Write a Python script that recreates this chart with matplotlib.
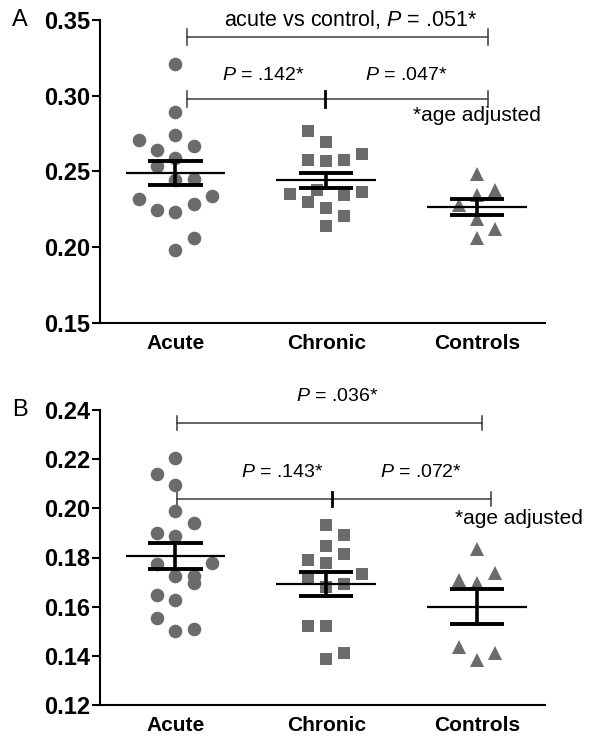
import matplotlib
matplotlib.use("Agg")
import matplotlib.pyplot as plt
import numpy as np

plt.rcParams['font.family'] = ['Liberation Sans', 'DejaVu Sans']
plt.rcParams['mathtext.fontset'] = 'custom'
plt.rcParams['mathtext.it'] = 'Liberation Sans:italic'
plt.rcParams['mathtext.rm'] = 'Liberation Sans'

categories = ["Acute", "Chronic", "Controls"]

# Panel A values
a_acute = [0.321, 0.289, 0.271, 0.274, 0.267, 0.264, 0.259, 0.2535, 0.2445, 0.245,
           0.232, 0.2337, 0.2246, 0.223, 0.2286, 0.2058, 0.198]
a_acute_dx = [0, 0, -2, 0, 1, -1, 0, -1, 0, 1, -2, 2, -1, 0, 1, 1, 0]
a_chronic = [0.2767, 0.2694, 0.2617, 0.2577, 0.2566, 0.2573, 0.2352, 0.2374, 0.2346,
             0.2363, 0.2297, 0.2260, 0.2202, 0.2136]
a_chronic_dx = [-1, 0, 2, -1, 0, 1, -2, -0.5, 1, 2, -1, 0, 1, 0]
a_controls = [0.2485, 0.2374, 0.2341, 0.2275, 0.2187, 0.2121, 0.2058]
a_controls_dx = [0, 1, 0, -1, 0, 1, 0]
a_mean = [0.249, 0.244, 0.2264]
a_sem = [0.0077, 0.0051, 0.0055]

# Panel B values
b_acute = [0.2203, 0.2138, 0.2095, 0.1989, 0.1939, 0.1898, 0.1887, 0.1773, 0.1776,
           0.1726, 0.1726, 0.1695, 0.1647, 0.1627, 0.1553, 0.1502, 0.1508]
b_acute_dx = [0, -1, 0, 0, 1, -1, 0, -1, 2, 0, 1, 1, -1, 0, -1, 0, 1]
b_chronic = [0.1932, 0.1891, 0.1847, 0.1814, 0.1790, 0.1776, 0.1733, 0.1711, 0.1692,
             0.1681, 0.1522, 0.1522, 0.1413, 0.1386]
b_chronic_dx = [0, 1, 0, 1, -1, 0, 2, -1, 1, 0, -1, 0, 1, 0]
b_controls = [0.1833, 0.1736, 0.1708, 0.1695, 0.1437, 0.1410, 0.1383]
b_controls_dx = [0, 1, -1, 0, -1, 1, 0]
b_mean = [0.1806, 0.1692, 0.160]
b_sem = [0.0053, 0.0047, 0.0070]

a_yticks = [0.15, 0.20, 0.25, 0.30, 0.35]
b_yticks = [0.12, 0.14, 0.16, 0.18, 0.20, 0.22, 0.24]

W, H = 601, 741
fig = plt.figure(figsize=(W / 100, H / 100), dpi=100)

def px_axes(left, right, top, bottom):
    return fig.add_axes([left / W, 1 - bottom / H, (right - left) / W, (bottom - top) / H])

axA = px_axes(100, 545, 20, 322.7)
axB = px_axes(100, 545, 410, 705)

grey = '#6b6b6b'
jit = 0.12
markers = ['o', 's', '^']
sizes = [9.8, 8.8, 9.8]

def draw_panel(ax, groups, dxs, means, sems, ylim, yticks, fmt):
    for i, (vals, dx) in enumerate(zip(groups, dxs)):
        x = i + np.array(dx) * jit
        ax.plot(x, vals, linestyle='none', marker=markers[i], color=grey,
                markersize=sizes[i], markeredgewidth=0, zorder=2)
        m, s = means[i], sems[i]
        ax.plot([i - 0.33, i + 0.33], [m, m], color='black', lw=1.6, zorder=3,
                solid_capstyle='butt')
        ax.plot([i - 0.18, i + 0.18], [m + s, m + s], color='black', lw=2.8, zorder=3,
                solid_capstyle='butt')
        ax.plot([i - 0.18, i + 0.18], [m - s, m - s], color='black', lw=2.8, zorder=3,
                solid_capstyle='butt')
        ax.plot([i, i], [m - s, m + s], color='black', lw=2.6, zorder=3)
    ax.set_xlim(-0.5, 2.45)
    ax.set_ylim(*ylim)
    ax.set_yticks(yticks)
    ax.set_yticklabels([fmt.format(t) for t in yticks], fontsize=17, fontweight='bold')
    ax.set_xticks(range(3))
    ax.set_xticklabels(categories, fontsize=15, fontweight='bold')
    ax.tick_params(axis='x', length=0, pad=8)
    ax.tick_params(axis='y', length=6, width=1.5, pad=1)
    for sp in ['top', 'right']:
        ax.spines[sp].set_visible(False)
    for sp in ['left', 'bottom']:
        ax.spines[sp].set_linewidth(1.5)

draw_panel(axA, [a_acute, a_chronic, a_controls],
           [a_acute_dx, a_chronic_dx, a_controls_dx], a_mean, a_sem,
           (0.15, 0.35), a_yticks, '{:.2f}')
draw_panel(axB, [b_acute, b_chronic, b_controls],
           [b_acute_dx, b_chronic_dx, b_controls_dx], b_mean, b_sem,
           (0.12, 0.24), b_yticks, '{:.2f}')

bcol = '#3a3a3a'

def bracket(ax, x0, x1, y, h, mid=None):
    ax.plot([x0, x1], [y, y], color=bcol, lw=1.1, clip_on=False, zorder=1)
    for xx in (x0, x1):
        ax.plot([xx, xx], [y - h, y + h], color=bcol, lw=1.1, clip_on=False, zorder=1)
    if mid is not None:
        ax.plot([mid, mid], [y - h, y + h], color='black', lw=2.0, clip_on=False, zorder=1)

tfs = 15
pfs = 14
# Panel A annotations
bracket(axA, 0.08, 2.07, 0.3388, 0.005)
axA.text(1.16, 0.3505, 'acute vs control, $P$ = .051*', ha='center', va='center',
         fontsize=15.5, clip_on=False)
bracket(axA, 0.08, 2.07, 0.2978, 0.005, mid=0.99)
axA.text(0.58, 0.3136, '$P$ = .142*', ha='center', va='center', fontsize=pfs)
axA.text(1.53, 0.3136, '$P$ = .047*', ha='center', va='center', fontsize=pfs)
axA.text(2.0, 0.2872, '*age adjusted', ha='center', va='center', fontsize=tfs)

# Panel B annotations
bracket(axB, 0.01, 2.03, 0.2347, 0.003)
axB.text(1.07, 0.2453, '$P$ = .036*', ha='center', va='center', fontsize=pfs,
         clip_on=False)
bracket(axB, 0.01, 2.09, 0.2038, 0.003, mid=1.04)
axB.text(0.71, 0.2144, '$P$ = .143*', ha='center', va='center', fontsize=pfs)
axB.text(1.63, 0.2144, '$P$ = .072*', ha='center', va='center', fontsize=pfs)
axB.text(2.28, 0.196, '*age adjusted', ha='center', va='center', fontsize=tfs)

fig.text(12 / W, 1 - 20 / H, 'A', fontsize=17, ha='left', va='center')
fig.text(12 / W, 1 - 410 / H, 'B', fontsize=17, ha='left', va='center')

fig.savefig('out.png', dpi=100)
